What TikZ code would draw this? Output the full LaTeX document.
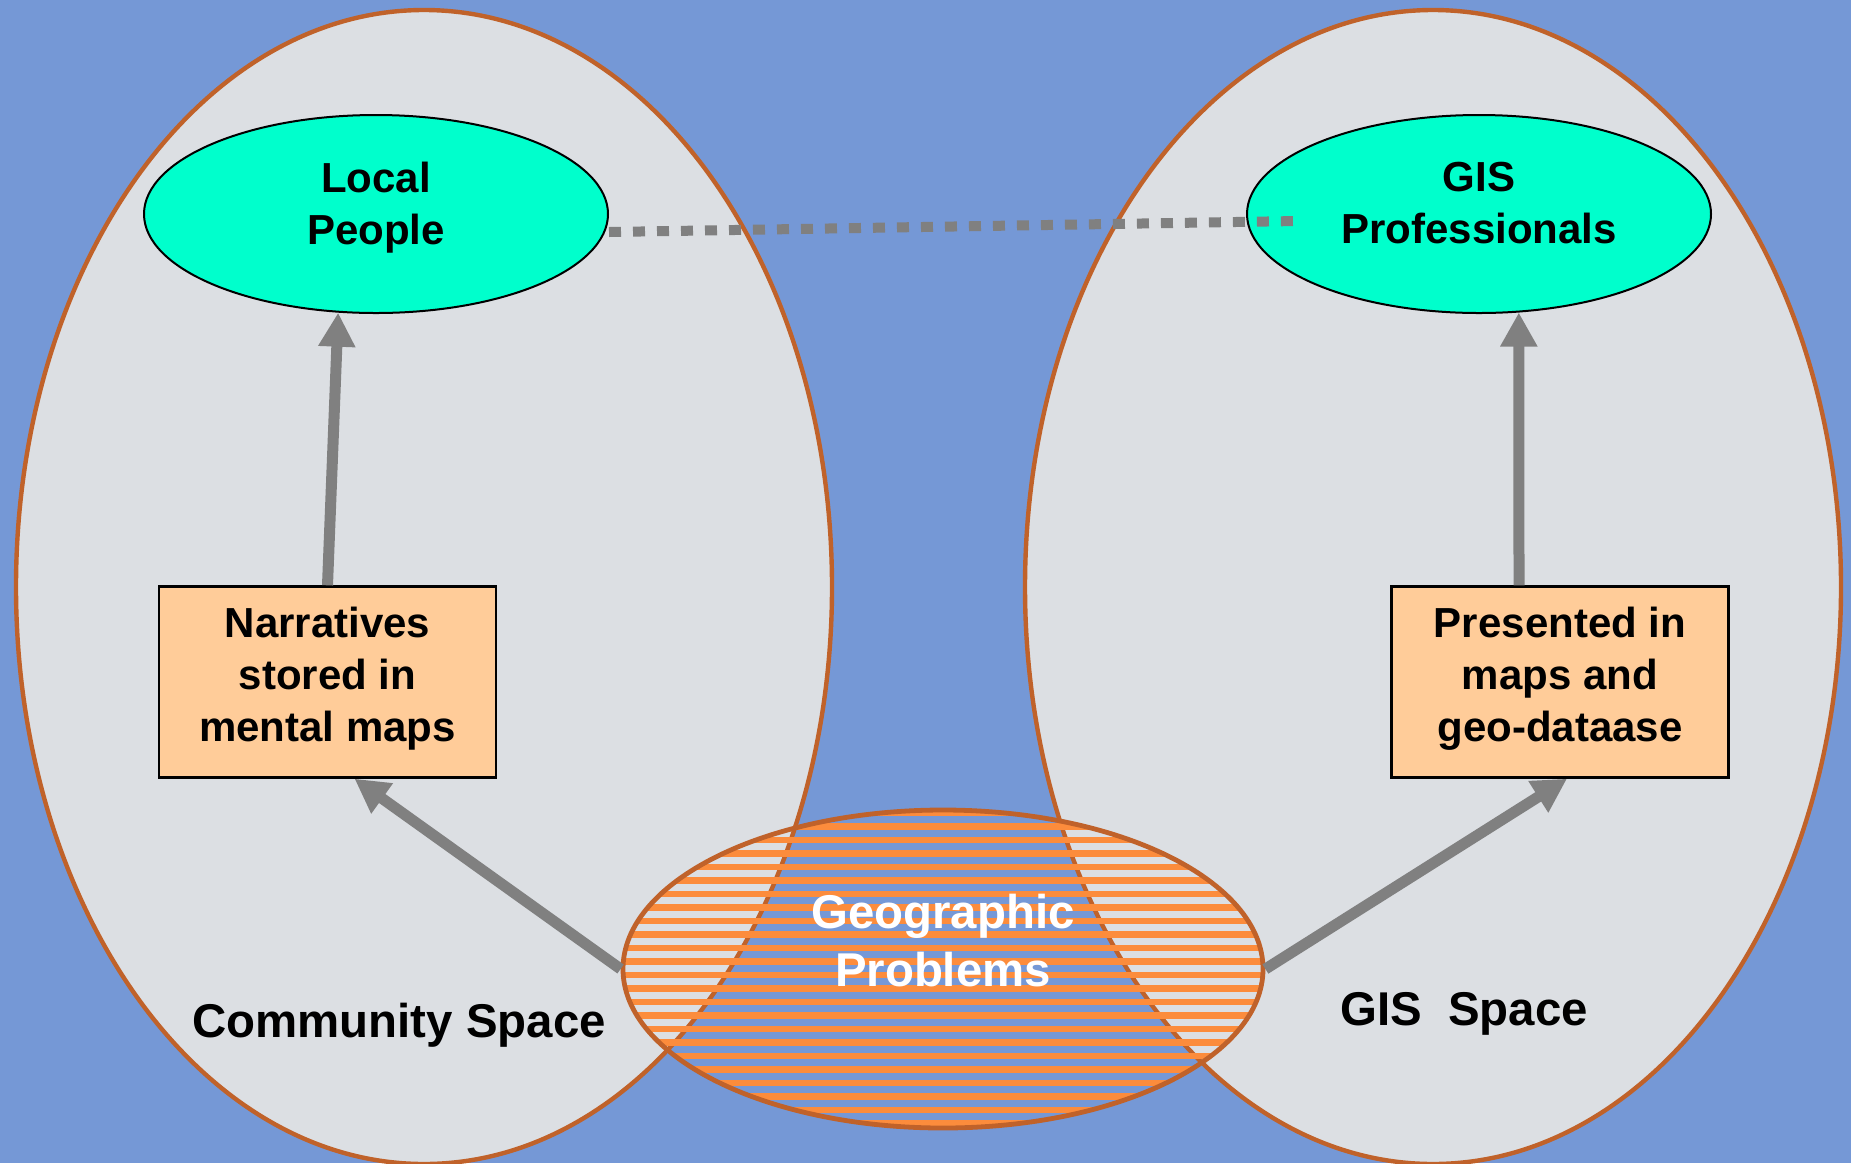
\documentclass[tikz,border=0pt]{standalone}
\usepackage{fontspec}
\setmainfont{Liberation Sans}
\usepackage{tikz}
\usetikzlibrary{arrows.meta,calc,shapes.geometric}
\definecolor{bgblue}{RGB}{117,152,214}
\definecolor{spacegray}{RGB}{220,223,227}
\definecolor{ringorange}{RGB}{192,98,42}
\definecolor{stripeorange}{RGB}{252,140,60}
\definecolor{actorcyan}{RGB}{0,255,204}
\definecolor{boxpeach}{RGB}{255,204,153}
\definecolor{flowgray}{RGB}{128,128,128}

\begin{document}
\begin{tikzpicture}[x=0.5pt,y=-0.5pt,
  space/.style={ellipse,draw=ringorange,line width=2.2pt,fill=spacegray,
    minimum width=408pt,minimum height=577pt,inner sep=0pt},
  actor/.style={ellipse,draw=black,line width=1pt,fill=actorcyan,
    minimum width=232pt,minimum height=99pt,inner sep=0pt,align=center,
    font=\fontsize{21}{26}\selectfont\bfseries},
  store/.style={rectangle,draw=black,line width=1.2pt,fill=boxpeach,
    minimum width=168.5pt,minimum height=95.5pt,inner sep=0pt,align=center,
    font=\fontsize{21}{26}\selectfont\bfseries},
  flow/.style={draw=flowgray,line width=5.5pt,
    -{Triangle[width=17.5pt,length=17pt]}},
  link/.style={draw=flowgray,line width=5pt,dash pattern=on 6pt off 6pt},
  stripe/.style={stripeorange,line width=3.25pt},
  spacelabel/.style={font=\fontsize{23.7}{28}\selectfont\bfseries}]
\useasboundingbox[fill=bgblue] (0,0) rectangle (1851,1163);

% the two spaces
\node[space] (cs) at (424,587) {};
\node[space] (gs) at (1433,587) {};

% people
\node[actor] (lp) at (376,214) {Local\\People\\[-15pt]\mbox{}};
\node[actor] (gisp) at (1479,214) {GIS\\Professionals\\[-15pt]\mbox{}};

% where knowledge is kept
\node[store] (narr) at (327.5,682) {Narratives\\stored in\\mental maps\\[-18pt]\mbox{}};
\node[store] (pres) at (1560,682) {Presented in\\maps and\\geo-dataase\\[-18pt]\mbox{}};

\draw[flow] (narr.north) -- (lp.-111);
\draw[flow] ([xshift=-20.5pt]pres.north) -- (gisp.-68);
\draw[link] ([yshift=-9pt]lp.east) -- ([xshift=26pt,yshift=-3.5pt]gisp.west);

% shared problems, hatched
\begin{scope}
  \clip (943,969) ellipse [x radius=160pt,y radius=79.5pt];
  \foreach \yy in {813,826.5,...,1130}
    \draw[stripe] (600,\yy) -- (1290,\yy);
\end{scope}
\node[ellipse,draw=ringorange,line width=2.4pt,minimum width=320pt,
  minimum height=159pt,inner sep=0pt] (geo) at (943,969) {};
\node[font=\fontsize{23.7}{29}\selectfont\bfseries,text=white,align=center]
  (geotext) at ([yshift=14pt]geo.center) {Geographic\\Problems};

\draw[flow] (geo.west) -- ([xshift=13.5pt]narr.south);
\draw[flow] (geo.east) -- ([xshift=3.5pt]pres.south);

\node[spacelabel] (cslabel) at (399,1025) {Community Space};
\node[spacelabel] (gslabel) at (1464,1014) {GIS\ \ Space};
\end{tikzpicture}
\end{document}
